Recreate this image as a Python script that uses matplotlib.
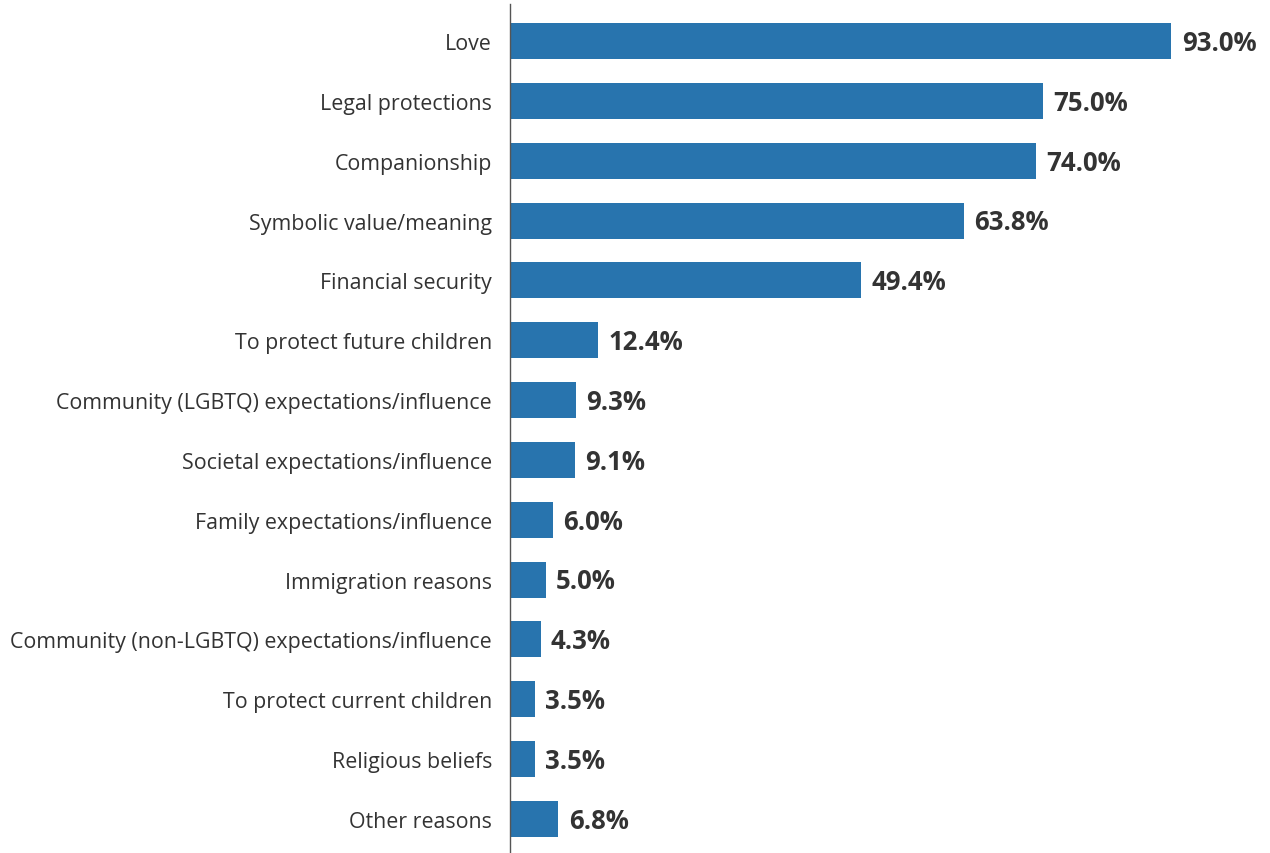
import matplotlib.pyplot as plt

categories = [
    "Love",
    "Legal protections",
    "Companionship",
    "Symbolic value/meaning",
    "Financial security",
    "To protect future children",
    "Community (LGBTQ) expectations/influence",
    "Societal expectations/influence",
    "Family expectations/influence",
    "Immigration reasons",
    "Community (non-LGBTQ) expectations/influence",
    "To protect current children",
    "Religious beliefs",
    "Other reasons",
]
values = [93.0, 75.0, 74.0, 63.8, 49.4, 12.4, 9.3, 9.1, 6.0, 5.0, 4.3, 3.5, 3.5, 6.8]

bar_color = "#2874ae"
text_color = "#333333"

plt.rcParams["font.family"] = ["Open Sans", "DejaVu Sans"]

fig = plt.figure(figsize=(12.7, 8.54), dpi=100)
ax = fig.add_axes([510 / 1270, 0.0, 711 / 1270, 1 - 5 / 854])

pos = list(range(len(categories)))
bars = ax.barh(pos, values, height=0.6, color=bar_color)

for b, v in zip(bars, values):
    ax.annotate(f"{v:.1f}%", (b.get_width(), b.get_y() + b.get_height() / 2),
                xytext=(7.5, -1), textcoords="offset points",
                va="center", ha="left", fontsize=18.5, fontweight="bold",
                color=text_color, annotation_clip=False)

ax.set_xlim(0, 100)
ax.set_ylim(13.57, -0.62)
ax.set_yticks(pos)
ax.set_yticklabels(categories, fontsize=15.4, color=text_color)
ax.tick_params(axis="y", length=0, pad=13)
ax.set_xticks([])

for s in ["top", "right", "bottom"]:
    ax.spines[s].set_visible(False)
ax.spines["left"].set_color("#555555")
ax.spines["left"].set_linewidth(1)

fig.savefig("out.png", dpi=100)
